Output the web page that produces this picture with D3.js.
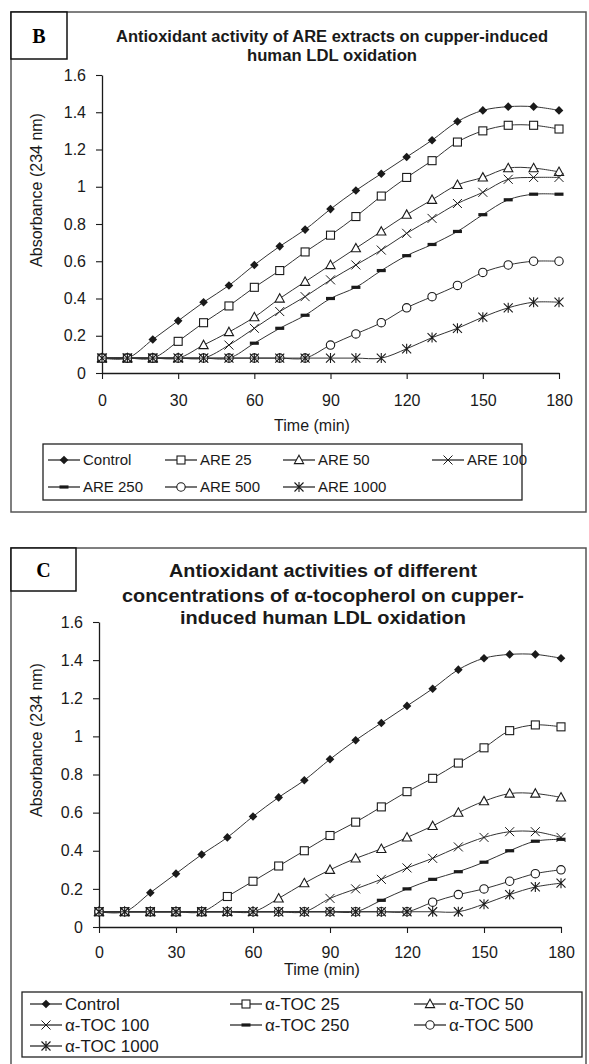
<!DOCTYPE html>
<html><head><meta charset="utf-8">
<script src="https://cdn.jsdelivr.net/npm/d3@7"></script>
<style>
body{margin:0;background:#fff}
text{font-family:"Liberation Sans",Arial,sans-serif;fill:#1a1a1a}
</style>
</head><body>
<svg id="chart" width="589" height="1064"></svg>
<script>
// ---------- data ----------
const times = [0,10,20,30,40,50,60,70,80,90,100,110,120,130,140,150,160,170,180];
const xTickValues = [0,30,60,90,120,150,180];
const yTickValues = [0,0.2,0.4,0.6,0.8,1.0,1.2,1.4,1.6];
const yTickLabels = ["0","0.2","0.4","0.6","0.8","1","1.2","1.4","1.6"];

// Panel B : ARE extracts
const namesB = ["Control","ARE 25","ARE 50","ARE 100","ARE 250","ARE 500","ARE 1000"];
const controlB = [0.08,0.08,0.18,0.28,0.38,0.47,0.58,0.68,0.77,0.88,0.98,1.07,1.16,1.25,1.35,1.41,1.43,1.43,1.41];
const are25   = [0.08,0.08,0.08,0.17,0.27,0.36,0.46,0.55,0.65,0.74,0.84,0.95,1.05,1.14,1.24,1.30,1.33,1.33,1.31];
const are50   = [0.08,0.08,0.08,0.08,0.15,0.22,0.30,0.40,0.49,0.58,0.67,0.76,0.85,0.93,1.01,1.05,1.10,1.10,1.08];
const are100  = [0.08,0.08,0.08,0.08,0.08,0.15,0.24,0.33,0.41,0.50,0.58,0.66,0.75,0.83,0.91,0.97,1.04,1.05,1.05];
const are250  = [0.08,0.08,0.08,0.08,0.08,0.08,0.16,0.24,0.31,0.40,0.46,0.55,0.63,0.69,0.76,0.85,0.93,0.96,0.96];
const are500  = [0.08,0.08,0.08,0.08,0.08,0.08,0.08,0.08,0.08,0.15,0.21,0.27,0.35,0.41,0.47,0.54,0.58,0.60,0.60];
const are1000 = [0.08,0.08,0.08,0.08,0.08,0.08,0.08,0.08,0.08,0.08,0.08,0.08,0.13,0.19,0.24,0.30,0.35,0.38,0.38];

// Panel C : alpha-tocopherol
const namesC = ["Control","α-TOC 25","α-TOC 50","α-TOC 100","α-TOC 250","α-TOC 500","α-TOC 1000"];
const controlC = [0.08,0.08,0.18,0.28,0.38,0.47,0.58,0.68,0.77,0.88,0.98,1.07,1.16,1.25,1.35,1.41,1.43,1.43,1.41];
const toc25   = [0.08,0.08,0.08,0.08,0.08,0.16,0.24,0.32,0.40,0.48,0.55,0.63,0.71,0.78,0.86,0.94,1.03,1.06,1.05];
const toc50   = [0.08,0.08,0.08,0.08,0.08,0.08,0.08,0.15,0.23,0.30,0.36,0.41,0.47,0.53,0.60,0.66,0.70,0.70,0.68];
const toc100  = [0.08,0.08,0.08,0.08,0.08,0.08,0.08,0.08,0.08,0.15,0.20,0.25,0.31,0.36,0.42,0.47,0.50,0.50,0.47];
const toc250  = [0.08,0.08,0.08,0.08,0.08,0.08,0.08,0.08,0.08,0.08,0.08,0.14,0.20,0.25,0.29,0.34,0.40,0.45,0.46];
const toc500  = [0.08,0.08,0.08,0.08,0.08,0.08,0.08,0.08,0.08,0.08,0.08,0.08,0.08,0.13,0.17,0.20,0.24,0.28,0.30];
const toc1000 = [0.08,0.08,0.08,0.08,0.08,0.08,0.08,0.08,0.08,0.08,0.08,0.08,0.08,0.08,0.08,0.12,0.17,0.21,0.23];

const markerTypes = ["diamond","square","triangle","cross","dash","circle","asterisk"];

// ---------- helpers ----------
const svg = d3.select("#chart");
const INK = "#1a1a1a";

function drawMarker(g, type, cx, cy){
  const s = 4.3;
  switch(type){
    case "diamond":
      g.append("path").attr("d",`M${cx},${cy-s}L${cx+s},${cy}L${cx},${cy+s}L${cx-s},${cy}Z`).attr("fill",INK); break;
    case "square":
      g.append("rect").attr("x",cx-4).attr("y",cy-4).attr("width",8).attr("height",8).attr("fill","#fff").attr("stroke",INK).attr("stroke-width",1.1); break;
    case "triangle":
      g.append("path").attr("d",`M${cx},${cy-4.8}L${cx+4.6},${cy+3.6}L${cx-4.6},${cy+3.6}Z`).attr("fill","#fff").attr("stroke",INK).attr("stroke-width",1.1); break;
    case "cross":
      g.append("path").attr("d",`M${cx-4.5},${cy-4.5}L${cx+4.5},${cy+4.5}M${cx-4.5},${cy+4.5}L${cx+4.5},${cy-4.5}`).attr("stroke",INK).attr("stroke-width",1); break;
    case "dash":
      g.append("rect").attr("x",cx-4.5).attr("y",cy-1.6).attr("width",9).attr("height",3.2).attr("fill",INK); break;
    case "circle":
      g.append("circle").attr("cx",cx).attr("cy",cy).attr("r",4.2).attr("fill","#fff").attr("stroke",INK).attr("stroke-width",1.1); break;
    case "asterisk":
      g.append("path").attr("d",`M${cx-4.5},${cy-4.5}L${cx+4.5},${cy+4.5}M${cx-4.5},${cy+4.5}L${cx+4.5},${cy-4.5}M${cx},${cy-5}L${cx},${cy+5}`).attr("stroke",INK).attr("stroke-width",1.1); break;
  }
}

function drawPanel(cfg){
  const g = svg.append("g");
  g.append("rect").attr("x",cfg.panel[0]).attr("y",cfg.panel[1]).attr("width",cfg.panel[2]).attr("height",cfg.panel[3])
    .attr("fill","none").attr("stroke","#555").attr("stroke-width",1.5);
  g.append("rect").attr("x",cfg.labelBox[0]).attr("y",cfg.labelBox[1]).attr("width",cfg.labelBox[2]).attr("height",cfg.labelBox[3])
    .attr("fill","#fff").attr("stroke","#111").attr("stroke-width",1.5);
  g.append("text").attr("x",cfg.labelBox[0]+cfg.labelBox[2]/2).attr("y",cfg.labelBox[1]+cfg.labelBox[3]/2+7)
    .attr("text-anchor","middle").style("font-family","'Liberation Serif','Times New Roman',serif")
    .style("font-weight","bold").style("font-size","20px").style("fill","#000").text(cfg.label);
  cfg.title.forEach((t,i)=>{
    g.append("text").attr("x",cfg.titleX).attr("y",cfg.titleY[i]).attr("text-anchor","middle")
      .style("font-weight","bold").style("font-size",cfg.titleSize+"px")
      .attr("textLength",cfg.titleLen[i]).attr("lengthAdjust","spacingAndGlyphs").text(t);
  });
  const x = d3.scaleLinear().domain([0,180]).range([cfg.x0,cfg.x1]);
  const y = d3.scaleLinear().domain([0,1.6]).range([cfg.y0,cfg.y1]);
  const ax = g.append("g").attr("transform",`translate(0,${cfg.y0})`)
    .call(d3.axisBottom(x).tickValues(xTickValues).tickSize(6).tickSizeOuter(0).tickPadding(cfg.xPad));
  const ay = g.append("g").attr("transform",`translate(${cfg.x0},0)`)
    .call(d3.axisLeft(y).tickValues(yTickValues).tickFormat((d,i)=>yTickLabels[i]).tickSize(6).tickSizeOuter(0).tickPadding(10));
  [ax,ay].forEach(a=>{
    a.select(".domain").attr("stroke",INK).attr("stroke-width",1.3);
    a.selectAll(".tick line").attr("stroke",INK).attr("stroke-width",1.1);
    a.selectAll(".tick text").style("font-size","16px").style("font-family","'Liberation Sans',Arial,sans-serif").attr("fill","#1a1a1a");
  });
  g.append("text").attr("x",cfg.xTitle[0]).attr("y",cfg.xTitle[1]).attr("text-anchor","middle").style("font-size","16px").text("Time (min)");
  g.append("text").attr("transform",`translate(${cfg.yTitle[0]},${cfg.yTitle[1]}) rotate(-90)`).attr("text-anchor","middle")
    .style("font-size","16px").text("Absorbance (234 nm)");
  const line = d3.line().x((d,i)=>x(times[i])).y(d=>y(d)).curve(d3.curveCatmullRom.alpha(0.5));
  cfg.series.forEach((s,k)=>{
    const sg = g.append("g");
    sg.append("path").attr("d",line(s)).attr("fill","none").attr("stroke","#333").attr("stroke-width",1);
    s.forEach((v,i)=>drawMarker(sg, markerTypes[k], x(times[i]), y(v)));
  });
  const L = cfg.legend;
  g.append("rect").attr("x",L.box[0]).attr("y",L.box[1]).attr("width",L.box[2]).attr("height",L.box[3])
    .attr("fill","#fff").attr("stroke","#222").attr("stroke-width",1.3);
  cfg.names.forEach((n,k)=>{
    const col = k % L.cols, row = Math.floor(k / L.cols);
    const lx = L.colX[col], ly = L.rowY[row];
    const lg = g.append("g");
    lg.append("line").attr("x1",lx).attr("x2",lx+L.lineLen).attr("y1",ly).attr("y2",ly).attr("stroke",INK).attr("stroke-width",1.2);
    drawMarker(lg, markerTypes[k], lx+L.lineLen/2, ly);
    lg.append("text").attr("x",lx+L.lineLen+3).attr("y",ly+L.fontSize*0.36).style("font-size",L.fontSize+"px").text(n);
  });
}

drawPanel({
  label:"B", panel:[11,12,575,500], labelBox:[11,12,56,47],
  title:["Antioxidant activity of ARE extracts  on cupper-induced","human LDL oxidation"],
  titleX:332, titleY:[42,61], titleSize:16, titleLen:[432,170],
  x0:102, x1:559, y0:373, y1:75, xPad:16,
  xTitle:[312,431], yTitle:[42,190],
  series:[controlB,are25,are50,are100,are250,are500,are1000],
  names:namesB,
  legend:{box:[43,444,479,56], cols:4, colX:[48,165,283,432], rowY:[460,487], lineLen:32, fontSize:15}
});

drawPanel({
  label:"C", panel:[11,548,575,530], labelBox:[11,548,65,43],
  title:["Antioxidant activities of different","concentrations of α-tocopherol on cupper-","induced human LDL oxidation"],
  titleX:323, titleY:[577,602,624], titleSize:18, titleLen:[308,402,286],
  x0:99, x1:561, y0:927, y1:622, xPad:14,
  xTitle:[322,975], yTitle:[42,740],
  series:[controlC,toc25,toc50,toc100,toc250,toc500,toc1000],
  names:namesC,
  legend:{box:[22,992,560,65], cols:3, colX:[30,230,414], rowY:[1004,1025,1046], lineLen:32, fontSize:17}
});
</script>
</body></html>
